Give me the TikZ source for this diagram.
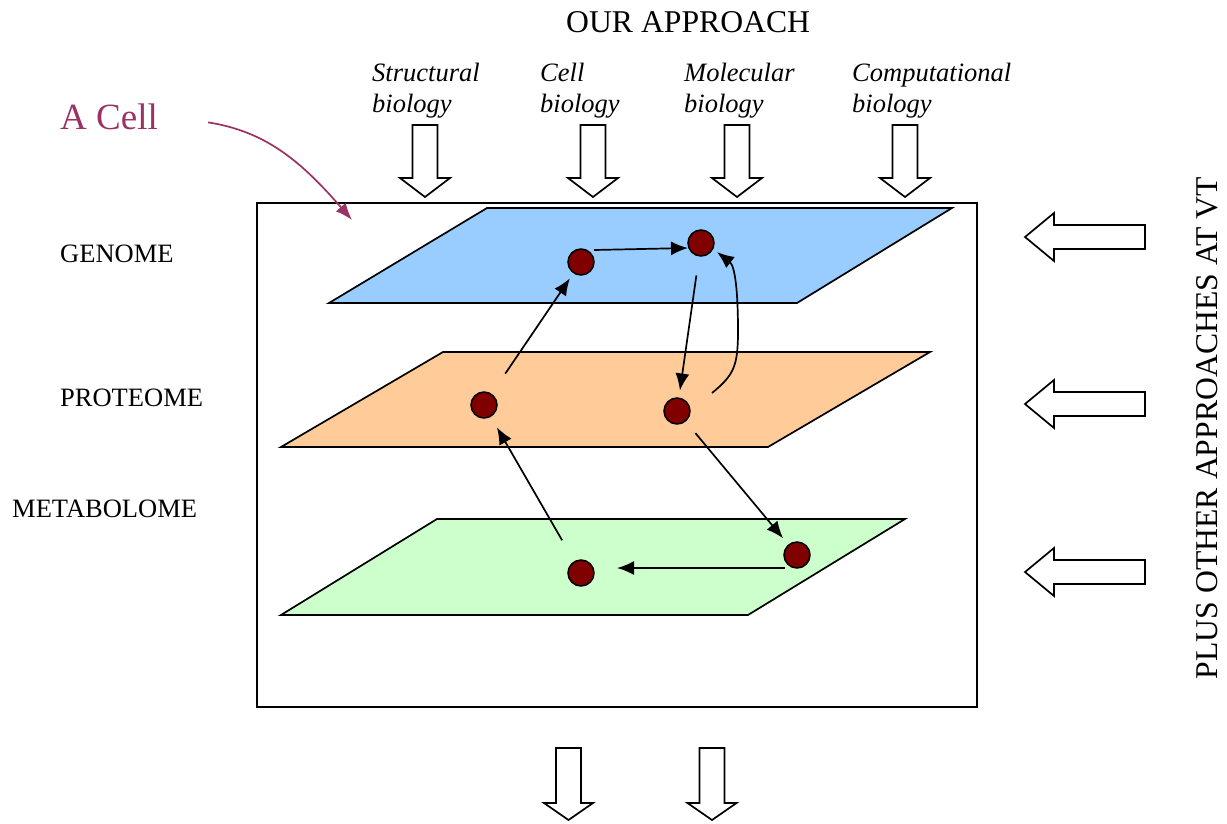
\documentclass[tikz,border=0pt]{standalone}
\usepackage{fontspec}
\setmainfont{Liberation Serif}
\usepackage{xcolor}
\usetikzlibrary{calc,positioning,arrows.meta}

\definecolor{genomeblue}{HTML}{99CCFF}
\definecolor{proteomeorange}{HTML}{FFCC99}
\definecolor{metabolgreen}{HTML}{CCFFCC}
\definecolor{dotred}{HTML}{800000}
\definecolor{cellpurple}{HTML}{993366}

\begin{document}
\begin{tikzpicture}[x=1pt,y=-1pt,
    dot/.style={fill=dotred,draw=black,circle,line width=1.5pt,minimum size=26pt,inner sep=0pt},
    plane/.style={draw=black,line width=1.7pt},
    link/.style={-{Latex[length=17pt,width=14pt]},line width=1.7pt},
    lab/.style={anchor=base west,inner sep=0pt,font=\fontsize{26.5}{31}\selectfont},
    src/.style={anchor=base west,inner sep=0pt,align=left,font=\fontsize{26.5}{31}\selectfont\itshape},
    block/.style={draw=black,fill=white,line width=1.7pt}]
      \useasboundingbox (0,0) rectangle (1227,823);

      % the cell and its three layers
      \draw[line width=1.7pt] (257,203) rectangle (977,707);
      \draw[plane,fill=genomeblue] (487,208) -- (952,208) -- (797,303) -- (329,303) -- cycle;
      \draw[plane,fill=proteomeorange] (443,352) -- (930,352) -- (768,447) -- (281,447) -- cycle;
      \draw[plane,fill=metabolgreen] (437,519) -- (905,519) -- (748,615) -- (281,615) -- cycle;

      \node[dot] (g1) at (581,262) {};
      \node[dot] (g2) at (701,243) {};
      \node[dot] (p1) at (484,405) {};
      \node[dot] (p2) at (677,411) {};
      \node[dot] (m1) at (581,573) {};
      \node[dot] (m2) at (797,555) {};

      \draw[link] ($(g1)+(13,-12)$) -- ($(g2)+(-13,5)$);
      \draw[link,shorten <=24pt,shorten >=6pt] (p1) -- (g1);
      \draw[link,shorten <=19pt,shorten >=7pt] (g2) -- (p2);
      \draw[link] ($(p2)+(35,-18)$) .. controls +(22,-18) and +(0,35) .. ($(p2)+(61,-80)$)
            .. controls +(0,-40) and +(18,14) .. ($(g2)+(16,9)$);
      \draw[link,shorten <=15pt,shorten >=8pt] (p2) -- (m2);
      \draw[link] ($(m2)+(-12,13)$) -- ($(m1)+(36,-5)$);
      \draw[link,shorten <=24pt,shorten >=12pt] (m1) -- (p1);

      % labels
      \node[lab,font=\fontsize{31.7}{34}\selectfont] (approach) at (566,32) {OUR APPROACH};
      \node[src] (struct) at (372,112) {Structural\\biology};
      \node[src] (cellbio) at (540,112) {Cell\\biology};
      \node[src] (molbio) at (684,112) {Molecular\\biology};
      \node[src] (compbio) at (852,112) {Computational\\biology};
      \node[lab] (genome) at (60,262) {GENOME};
      \node[lab] (proteome) at (60,406) {PROTEOME};
      \node[lab] (metabolome) at (12,517) {METABOLOME};
      \node[rotate=90,anchor=base,inner sep=0pt,font=\fontsize{31.7}{34}\selectfont] (others) at (1217,428) {PLUS OTHER APPROACHES AT VT};

      \node[lab,font=\fontsize{37}{40}\selectfont,text=cellpurple] (acell) at (60,129) {A Cell};
      \coordinate (acelltip) at (352,220);
      \draw[-{Latex[length=17pt,width=13pt]},draw=cellpurple,line width=1.7pt]
            ($(acell.east)+(50,6)$) .. controls +(57,9) and +(-52,-60) .. (acelltip);

      % block arrows
      \foreach \cx in {425,593,737,905}
        \draw[block] (\cx-12.5,125) -- (\cx+12.5,125) -- (\cx+12.5,178) -- (\cx+25,178)
              -- (\cx,197) -- (\cx-25,178) -- (\cx-12.5,178) -- cycle;
      \foreach \cy in {237,404,572}
        \draw[block] (1025,\cy) -- (1054,\cy-24) -- (1054,\cy-12) -- (1145,\cy-12)
              -- (1145,\cy+12) -- (1054,\cy+12) -- (1054,\cy+24) -- cycle;
      \foreach \cx in {568.5,712}
        \draw[block] (\cx-12.5,748) -- (\cx+12.5,748) -- (\cx+12.5,803) -- (\cx+24.5,803)
              -- (\cx,820) -- (\cx-24.5,803) -- (\cx-12.5,803) -- cycle;
\end{tikzpicture}
\end{document}
